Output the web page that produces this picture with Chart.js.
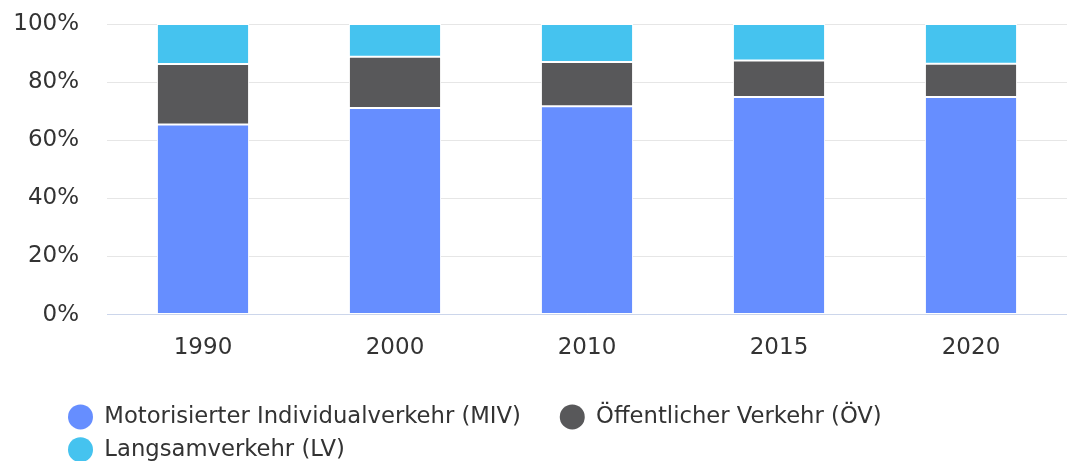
<!DOCTYPE html>
<html>
<head>
<meta charset="utf-8">
<script src="https://cdn.jsdelivr.net/npm/chart.js@4/dist/chart.umd.min.js"></script>
<style>
  html, body { margin: 0; padding: 0; background: #fff; }
  #wrap { width: 1067px; height: 461px; position: relative; }
</style>
</head>
<body>
<div id="wrap"><canvas id="c"></canvas></div>
<script>
const categories = ['1990', '2000', '2010', '2015', '2020'];
const seriesNames = ['Motorisierter Individualverkehr (MIV)', 'Öffentlicher Verkehr (ÖV)', 'Langsamverkehr (LV)'];
const miv = [65.4, 71.1, 71.7, 74.9, 74.9];
const oev = [20.8, 17.6, 15.2, 12.5, 11.4];
const lv  = [13.8, 11.3, 13.1, 12.6, 13.7];
const yTicks = [0, 20, 40, 60, 80, 100];

const colors = ['#668eff', '#58585a', '#45c3ef'];
const values = [miv, oev, lv];

const legendShift = {
  id: 'legendShift',
  afterLayout(chart) {
    chart.legend.left += 47;
    chart.legend.top += 10;
    chart.legend.bottom += 10;
  }
};

new Chart(document.getElementById('c'), {
  type: 'bar',
  data: {
    labels: categories,
    datasets: seriesNames.map((n, i) => ({
      label: n,
      data: values[i],
      backgroundColor: colors[i],
      borderColor: '#ffffff',
      borderWidth: 1,
      borderSkipped: false,
      barPercentage: 0.48,
      categoryPercentage: 1.0
    }))
  },
  options: {
    responsive: true,
    maintainAspectRatio: false,
    animation: false,
    layout: { padding: { top: 24, left: 11, right: 0, bottom: 0 } },
    scales: {
      x: {
        stacked: true,
        grid: { display: false },
        border: { display: true, color: '#ccd6eb', width: 1 },
        ticks: { color: '#333333', padding: 12, font: { family: 'DejaVu Sans', size: 23 } },
        afterFit(scale) { scale.height = 71; }
      },
      y: {
        stacked: true,
        min: 0, max: 100,
        afterBuildTicks(scale) { scale.ticks = yTicks.map(v => ({ value: v })); },
        grid: { color: '#e6e6e6', drawTicks: false, lineWidth: 1 },
        border: { display: false },
        ticks: {
          color: '#333333', padding: 28,
          font: { family: 'DejaVu Sans', size: 23 },
          callback: v => v + '%'
        },
        afterFit(scale) {
          scale.width = 96;
          scale.paddingTop = 0;
          scale.paddingBottom = 0;
        }
      }
    },
    plugins: {
      tooltip: { enabled: false },
      legend: {
        position: 'bottom',
        align: 'start',
        labels: {
          usePointStyle: true,
          pointStyle: 'circle',
          pointStyleWidth: 25,
          boxHeight: 17.7,
          padding: 10,
          color: '#333333',
          font: { family: 'DejaVu Sans', size: 22.7 },
          generateLabels(chart) {
            return chart.data.datasets.map((ds, i) => ({
              text: i === 0 ? ds.label + '    ' : ds.label,
              fillStyle: ds.backgroundColor,
              strokeStyle: ds.backgroundColor,
              lineWidth: 0,
              pointStyle: 'circle',
              hidden: false,
              datasetIndex: i,
              fontColor: '#333333'
            }));
          }
        }
      }
    }
  },
  plugins: [legendShift]
});
</script>
</body>
</html>
